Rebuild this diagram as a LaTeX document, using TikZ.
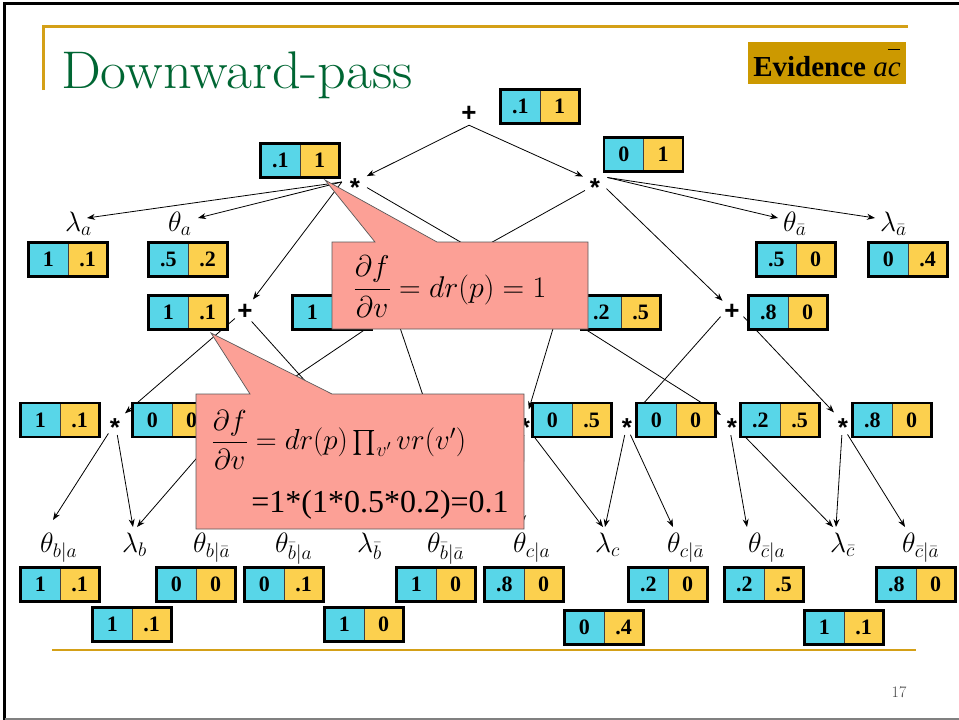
\RequirePackage{fix-cm}
\documentclass[tikz,border=0pt]{standalone}
\usepackage{exscale}
\usepackage{fontspec}
\usetikzlibrary{arrows.meta,calc}
\newfontfamily\tnr{Liberation Serif}
\newfontfamily\arl{Liberation Sans}
\definecolor{cyanc}{RGB}{88,214,232}
\definecolor{goldc}{RGB}{252,208,78}
\definecolor{salmon}{RGB}{252,160,150}
\definecolor{titlegreen}{RGB}{0,102,51}
\definecolor{rulegold}{RGB}{212,160,23}
\definecolor{evgold}{RGB}{204,153,0}
% two-cell value box: value | derivative
\newcommand\pv[2]{\makebox[39.5pt]{#1}\makebox[39.5pt]{#2}}
% operator glyphs centred on their node
\newcommand\plussym{\raisebox{-0.354em}[0pt][0pt]{+}}
\newcommand\starsym{\raisebox{-0.575em}[0pt][0pt]{*}}
\newcommand\barc{\leavevmode\rlap{\raisebox{0.92em}{\rule{0.42em}{0.05em}}}c}
\begin{document}
\begin{tikzpicture}[x=1pt,y=-1pt,
  pair/.style={draw=black, line width=2.8pt, minimum width=79pt, minimum height=34pt,
    inner sep=0pt, font=\tnr\bfseries\fontsize{22}{22}\selectfont,
    path picture={
      \fill[cyanc] (path picture bounding box.south west) rectangle (path picture bounding box.north);
      \fill[goldc] (path picture bounding box.south) rectangle (path picture bounding box.north east);
      \draw[line width=0.8pt, black!75] (path picture bounding box.south) -- (path picture bounding box.north);}},
  sym/.style={circle, inner sep=0pt, minimum size=26pt, font=\arl\bfseries\fontsize{26}{26}\selectfont},
  hid/.style={circle, inner sep=0pt, minimum size=26pt},
  lbl/.style={anchor=north west, inner sep=0pt, font=\fontsize{28}{30}\selectfont},
  conn/.style={-{Stealth[length=8pt,width=6pt]}, line width=0.8pt},
  callout/.style={fill=salmon, draw=black!65, line width=0.7pt}]
\useasboundingbox (0,0) rectangle (959,720);

% slide frame and rules
\draw[line width=2.5pt] (4.7,720) -- (4.7,3.7) -- (959,3.7);
\draw[line width=2pt, black!50] (4.7,718.6) -- (959,718.6);
\draw[rulegold, line width=2.2pt] (43.5,90) -- (43.5,26.5) -- (908,26.5);
\draw[rulegold, line width=2.2pt] (52,650) -- (916,650);

\node[anchor=base west, inner sep=0pt, text=titlegreen, font=\fontsize{53}{53}\selectfont] (title) at (61,88) {\scalebox{1.062}[1]{Downward-pass}};
\node[fill=evgold, minimum width=158pt, minimum height=42pt, inner sep=0pt,
  font=\tnr\fontsize{29}{29}\selectfont] (ev) at (827,63) {\textbf{Evidence} \textit{a\barc}};
\node[font=\fontsize{16}{16}\selectfont, text=black!75, inner sep=0pt] (pg) at (899,692) {17};

% operator nodes
\node[sym] (rp) at (469,112) {\plussym};
\node[sym] (la) at (355,182) {\starsym};
\node[sym] (ra) at (595,182) {\starsym};
\node[sym] (p1) at (245,310) {\plussym};
\node[sym] (p4) at (732,310) {\plussym};
\node[hid] (pba) at (394,310) {};
\node[hid] (pca) at (558,312) {};
\node[sym] (m1) at (115,422) {\starsym};
\node[sym] (m5) at (525,422) {\starsym};
\node[sym] (m6) at (627,422) {\starsym};
\node[sym] (m7) at (732,422) {\starsym};
\node[sym] (m8) at (843,422) {\starsym};
\coordinate (mb2) at (228,422);
\coordinate (mb3) at (342,422);
\coordinate (mb4) at (432,422);

% leaf labels
\node[lbl] (lla) at (65,212) {$\lambda_a$};
\node[lbl] (lta) at (168,212) {$\theta_a$};
\node[lbl] (ltna) at (783,212) {$\theta_{\bar a}$};
\node[lbl] (llna) at (880,212) {$\lambda_{\bar a}$};
\node[lbl] (t1) at (40,533) {$\theta_{b|a}$};
\node[lbl] (lb) at (122,533) {$\lambda_b$};
\node[lbl] (t2) at (193,533) {$\theta_{b|\bar a}$};
\node[lbl] (t3) at (275,533) {$\theta_{\bar b|a}$};
\node[lbl] (lnb) at (357,533) {$\lambda_{\bar b}$};
\node[lbl] (t4) at (427,533) {$\theta_{\bar b|\bar a}$};
\node[lbl] (t5) at (513,533) {$\theta_{c|a}$};
\node[lbl] (lc) at (595,533) {$\lambda_c$};
\node[lbl] (t6) at (667,533) {$\theta_{c|\bar a}$};
\node[lbl] (t7) at (748,533) {$\theta_{\bar c|a}$};
\node[lbl] (lnc) at (830,533) {$\lambda_{\bar c}$};
\node[lbl] (t8) at (902,533) {$\theta_{\bar c|\bar a}$};

% connectors
\draw[conn] (rp.south) -- (la);
\draw[conn] (rp.south) -- (ra);
\draw[conn] (la.west) -- ([xshift=22pt,yshift=-6pt]lla.north west);
\draw[conn] (la.west) -- ([xshift=30pt,yshift=-6pt]lta.north west);
\draw[conn] (la.west) -- (p1);
\draw[conn] (la.-25) -- (pca.north);
\draw[conn] (ra.20) -- ([xshift=-5pt,yshift=-6pt]ltna.north west);
\draw[conn] (ra.20) -- ([xshift=-5pt,yshift=-6pt]llna.north west);
\draw[conn] (ra.-30) -- (p4);
\draw[conn] (ra.220) -- (pba.north);
\draw[conn] (p1.220) -- (m1);
\draw[conn] (p1.-60) -- (mb3);
\draw[conn] (pba) -- (mb2);
\draw[conn] (pba) -- (mb4);
\draw[conn] (pca) -- (m5);
\draw[conn] (pca) -- (m7);
\draw[conn] (p4.-150) -- (m6);
\draw[conn] (p4.-30) -- (m8);
\draw[conn] (m1.-120) -- ([xshift=13pt,yshift=13pt]t1.north west);
\draw[conn] (m1.-80) -- ([xshift=11pt,yshift=6pt]lb.north west);
\draw[conn] (mb2) -- ([xshift=15pt,yshift=6pt]lb.north west);
\draw[conn] (m5.-95) -- ([xshift=10pt,yshift=10pt]t5.north west);
\draw[conn] (m5.-60) -- ([xshift=8pt,yshift=6pt]lc.north west);
\draw[conn] (m6.-100) -- ([xshift=10pt,yshift=6pt]lc.north west);
\draw[conn] (m6.-75) -- ([xshift=6pt,yshift=6pt]t6.north west);
\draw[conn] (m7.-95) -- ([xshift=-1pt,yshift=6pt]t7.north west);
\draw[conn] (m7.-50) -- ([xshift=3pt,yshift=6pt]lnc.north west);
\draw[conn] (m8.-95) -- ([xshift=6pt,yshift=6pt]lnc.north west);
\draw[conn] (m8.-70) -- ([xshift=3pt,yshift=6pt]t8.north west);

% value boxes
\node[pair] (b0) at (540,106.5) {\pv{.1}{1}};
\node[pair] (bla) at (300,160.5) {\pv{.1}{1}};
\node[pair] (bra) at (643.5,154.5) {\pv{0}{1}};
\node[pair] (bxla) at (68,259.5) {\pv{1}{.1}};
\node[pair] (bxta) at (188,259.5) {\pv{.5}{.2}};
\node[pair] (bxtna) at (796,259.5) {\pv{.5}{0}};
\node[pair] (bxlna) at (908,259.5) {\pv{0}{.4}};
\node[pair] (bp1) at (188,312.5) {\pv{1}{.1}};
\node[pair] (bpba) at (332,312.5) {\pv{1}{}};
\node[pair] (bpca) at (621,312.5) {\pv{.2}{.5}};
\node[pair] (bp4) at (788,312.5) {\pv{.8}{0}};
\node[pair] (bm1) at (60,420) {\pv{1}{.1}};
\node[pair] (bm2) at (172,420) {\pv{0}{0}};
\node[pair] (bm5) at (572,420) {\pv{0}{.5}};
\node[pair] (bm6) at (676,420) {\pv{0}{0}};
\node[pair] (bm7) at (780,420) {\pv{.2}{.5}};
\node[pair] (bm8) at (892,420) {\pv{.8}{0}};
\node[pair] (bt1) at (60,584.5) {\pv{1}{.1}};
\node[pair] (bt2) at (196,584.5) {\pv{0}{0}};
\node[pair] (bt3) at (284,584.5) {\pv{0}{.1}};
\node[pair] (bt4) at (436,584.5) {\pv{1}{0}};
\node[pair] (bt5) at (524,584.5) {\pv{.8}{0}};
\node[pair] (bt6) at (668,584.5) {\pv{.2}{0}};
\node[pair] (bt7) at (764,584.5) {\pv{.2}{.5}};
\node[pair] (bt8) at (916,584.5) {\pv{.8}{0}};
\node[pair] (blb) at (132,624.5) {\pv{1}{.1}};
\node[pair] (blnb) at (364,624.5) {\pv{1}{0}};
\node[pair] (blc) at (604,627.5) {\pv{0}{.4}};
\node[pair] (blnc) at (844,627.5) {\pv{1}{.1}};

% callouts
\path[callout] (332,242) -- (375,242) -- (325,180) -- (437,242) -- (588,242)
  -- (588,329) -- (332,329) -- cycle;
\node[inner sep=0pt, font=\fontsize{30}{30}\selectfont] (c1) at (450,287)
  {$\displaystyle\frac{\partial f}{\partial v}=dr(p)=1$};
\path[callout] (196,394) -- (250,394) -- (211,333) -- (332,394) -- (524,394)
  -- (524,529) -- (196,529) -- cycle;
\node[inner sep=0pt, font=\fontsize{29}{29}\selectfont] (c2) at (339,440)
  {$\displaystyle\frac{\partial f}{\partial v}=dr(p)\textstyle\prod_{v'}vr(v')$};
\node[inner sep=0pt, font=\tnr\fontsize{32}{32}\selectfont] (c3) at (380,505)
  {=1*(1*0.5*0.2)=0.1};
\end{tikzpicture}
\end{document}
